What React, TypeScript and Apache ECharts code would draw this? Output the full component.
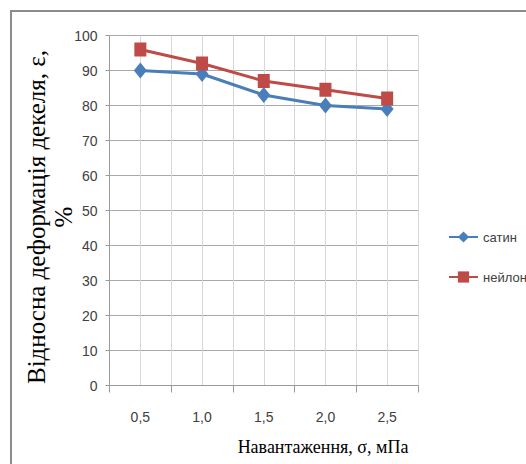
import React, { useEffect, useRef } from "react";
import * as echarts from "echarts";

const loads = [0.5, 1.0, 1.5, 2.0, 2.5];
const satin = [90, 89, 83, 80, 79];
const nylon = [96, 92, 87, 84.5, 82];
const seriesNames = ["сатин", "нейлон"];
const xTitle = "Навантаження, σ, мПа";
const yTitle = "Відносна деформація декеля, ε,\n%";

export default function App() {
  const ref = useRef<HTMLDivElement>(null);
  useEffect(() => {
    if (!ref.current) return;
    const chart = echarts.init(ref.current, undefined, { renderer: "svg" });
    const tickFont = "'Liberation Sans', Arial, sans-serif";
    chart.setOption({
      animation: false,
      backgroundColor: "#ffffff",
      grid: { left: 109.5, right: 108, top: 35.5, bottom: 78.5, containLabel: false },
      xAxis: [
        {
          type: "value",
          min: 0.25,
          max: 2.75,
          interval: 0.25,
          position: "bottom",
          axisLine: { show: true, lineStyle: { color: "#9a9a9a", width: 1 } },
          axisTick: { show: false },
          splitLine: { show: true, lineStyle: { color: "#d6d6d6", width: 1 } },
          axisLabel: {
            margin: 24,
            fontFamily: tickFont,
            fontSize: 14,
            color: "#404040",
            formatter: (v: number) => {
              const d = v * 2;
              return Math.abs(d - Math.round(d)) < 1e-6 ? v.toFixed(1).replace(".", ",") : "";
            },
          },
        },
        {
          type: "value",
          min: 0.25,
          max: 2.75,
          interval: 0.5,
          position: "bottom",
          axisLine: { show: false },
          axisTick: { show: true, length: 7, lineStyle: { color: "#9a9a9a" } },
          axisLabel: { show: false },
          splitLine: { show: false },
        },
      ],
      yAxis: {
        type: "value",
        min: 0,
        max: 100,
        interval: 10,
        axisLine: { show: true, lineStyle: { color: "#9a9a9a", width: 1 } },
        axisTick: { show: true, length: 4, lineStyle: { color: "#9a9a9a" } },
        splitLine: { show: true, lineStyle: { color: "#a8a8a8", width: 1 } },
        axisLabel: { margin: 12, fontFamily: tickFont, fontSize: 14, color: "#404040" },
      },
      legend: {
        orient: "vertical",
        left: 443,
        top: 225,
        itemWidth: 29,
        itemHeight: 14,
        itemGap: 26,
        textStyle: { fontFamily: tickFont, fontSize: 13, color: "#404040", lineHeight: 14 },
        data: seriesNames,
      },
      graphic: [
        {
          type: "rect",
          shape: { x: 11, y: 11, width: 540, height: 480 },
          style: { fill: "none", stroke: "#8c8c8c", lineWidth: 2 },
          silent: true,
        },
        {
          type: "text",
          x: 50,
          y: 217,
          rotation: Math.PI / 2,
          style: {
            text: yTitle,
            fontFamily: "'Liberation Serif', 'Times New Roman', serif",
            fontSize: 25,
            lineHeight: 27,
            fill: "#000000",
            align: "center",
            verticalAlign: "middle",
          },
        },
        {
          type: "text",
          x: 323,
          y: 447,
          style: {
            text: xTitle,
            fontFamily: "'Liberation Serif', 'Times New Roman', serif",
            fontSize: 18,
            fill: "#000000",
            align: "center",
            verticalAlign: "middle",
          },
        },
      ],
      series: [
        {
          name: seriesNames[0],
          type: "line",
          xAxisIndex: 0,
          data: loads.map((x, i) => [x, satin[i]]),
          symbol: "diamond",
          symbolSize: [13, 16],
          lineStyle: { color: "#4a7ebb", width: 3 },
          itemStyle: { color: "#4a7ebb" },
        },
        {
          name: seriesNames[1],
          type: "line",
          xAxisIndex: 0,
          data: loads.map((x, i) => [x, nylon[i]]),
          symbol: "rect",
          symbolSize: [12, 14],
          lineStyle: { color: "#be4b48", width: 3 },
          itemStyle: { color: "#be4b48" },
        },
      ],
    });
    return () => chart.dispose();
  }, []);
  return (
    <div
      ref={ref}
      style={{ position: "fixed", left: 0, top: 0, width: 526, height: 464, background: "#fff" }}
    />
  );
}
